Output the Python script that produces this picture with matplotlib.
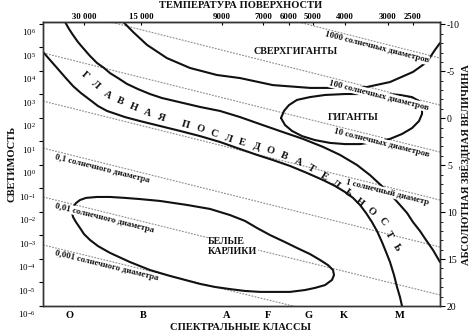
"""Hertzsprung-Russell diagram with lines of constant stellar diameter."""

import matplotlib

matplotlib.use("Agg")

import matplotlib.pyplot as plt
import numpy as np
from matplotlib import transforms
from matplotlib.ticker import FixedLocator, FuncFormatter, NullLocator

plt.rcParams["font.family"] = ["Liberation Serif", "DejaVu Serif"]
plt.rcParams["axes.unicode_minus"] = False

# Horizontal scale runs from 0 (hot, left edge) to 100 (cool, right edge).
SPECTRAL_CLASSES = ["O", "B", "A", "F", "G", "K", "M"]
SPECTRAL_X = [6.8, 25.2, 46.3, 56.7, 67.0, 75.8, 89.9]

TEMPERATURE_LABELS = ["30 000", "15 000", "9000", "7000", "6000", "5000", "4000", "3000", "2500"]
TEMPERATURE_X = [10.3, 24.7, 45.1, 55.4, 62.0, 68.0, 76.1, 86.9, 93.2]

LUMINOSITY_EXPONENTS = list(range(-6, 7))
MAGNITUDE_TICKS = [-10, -5, 0, 5, 10, 15, 20]
MAGNITUDE_MINOR = list(range(-10, 21))

# Lines of constant radius: log10(L) where each one meets the left and right edge.
RADIUS_LABELS = [
    "1000 солнечных диаметров",
    "100 солнечных диаметров",
    "10 солнечных диаметров",
    "1 солнечный диаметр",
    "0,1 солнечного диаметра",
    "0,01 солнечного диаметра",
    "0,001 солнечного диаметра",
]
RADIUS_LOGL_LEFT = [8.85, 6.81, 4.77, 2.72, 0.72, -1.36, -3.40]
RADIUS_LOGL_RIGHT = [4.55, 2.55, 0.55, -1.49, -3.49, -5.53, -7.53]

# Region outlines: spectral position and log10(L).
SUPERGIANT_X = [20.2, 22.7, 26.2, 31.2, 37.0, 43.8, 49.6, 57.9, 67.3, 74.8, 81.6, 87.4, 93.2, 96.7, 98.7, 100.0]
SUPERGIANT_LOGL = [6.09, 5.66, 5.11, 4.55, 4.13, 3.83, 3.70, 3.40, 3.28, 3.28, 3.32, 3.53, 3.96, 4.38, 4.89, 5.19]

MS_UPPER_X = [5.54, 6.55, 7.56, 8.82, 10.08, 11.84, 13.60, 15.37, 16.88, 18.89, 21.16, 23.93, 26.95, 29.97,
              33.25, 39.55, 44.58, 49.62, 54.66, 60.45, 65.49, 70.53, 74.81, 79.09, 82.37, 85.64, 87.91,
              89.92, 91.69, 93.20, 94.96, 96.47, 98.24, 100.0]
MS_UPPER_LOGL = [6.09, 5.79, 5.53, 5.23, 4.98, 4.64, 4.34, 4.13, 3.91, 3.70, 3.45, 3.23, 3.02, 2.85,
                 2.72, 2.47, 2.30, 2.04, 1.74, 1.40, 1.11, 0.77, 0.43, 0.00, -0.43, -0.94, -1.32,
                 -1.70, -2.04, -2.43, -2.81, -3.19, -3.62, -4.13]

MS_LOWER_X = [0.00, 1.76, 3.53, 5.54, 7.56, 9.57, 11.84, 13.85, 16.12, 18.39, 20.65, 24.43, 29.47, 34.51,
              39.55, 44.58, 49.62, 53.90, 57.93, 62.22, 66.50, 70.53, 73.55, 76.07, 78.09, 79.85, 81.36,
              82.87, 84.13, 85.39, 86.40, 87.41, 88.41, 89.17, 89.92, 90.43]
MS_LOWER_LOGL = [4.81, 4.47, 4.13, 3.74, 3.36, 3.06, 2.77, 2.51, 2.30, 2.17, 2.04, 1.87, 1.66, 1.45,
                 1.23, 0.98, 0.68, 0.43, 0.21, -0.04, -0.34, -0.64, -0.89, -1.15, -1.40, -1.70, -2.04,
                 -2.43, -2.81, -3.28, -3.70, -4.13, -4.68, -5.19, -5.62, -6.00]

GIANT_X = [59.95, 60.71, 61.96, 63.98, 67.25, 71.03, 76.07, 81.11, 86.15, 89.92, 92.95, 94.71, 95.47,
           95.47, 94.71, 92.95, 90.43, 87.41, 83.63, 79.85, 76.07, 72.29, 68.51, 65.24, 62.72, 60.96, 59.95]
GIANT_LOGL = [2.00, 2.30, 2.55, 2.77, 2.89, 2.98, 3.02, 3.02, 3.02, 2.98, 2.89, 2.72, 2.47,
              2.17, 1.87, 1.57, 1.32, 1.11, 0.98, 0.89, 0.89, 0.94, 1.06, 1.23, 1.45, 1.70, 2.00]

DWARF_X = [7.30, 7.56, 8.31, 9.32, 10.83, 13.60, 16.88, 20.65, 24.43, 29.47, 36.27, 42.07, 47.10, 50.88,
           53.90, 57.18, 60.96, 63.98, 67.25, 69.77, 71.79, 73.05, 73.30, 72.80, 71.03, 68.51, 66.00,
           62.22, 58.44, 54.66, 50.88, 47.10, 43.32, 39.55, 35.77, 31.99, 26.95, 21.91, 16.88, 13.85,
           11.84, 10.33, 9.32, 8.31, 7.56, 7.30]
DWARF_LOGL = [-2.00, -1.79, -1.62, -1.49, -1.40, -1.36, -1.36, -1.40, -1.45, -1.53, -1.70, -1.87, -2.13,
              -2.38, -2.68, -2.98, -3.28, -3.53, -3.79, -4.04, -4.26, -4.47, -4.68, -4.89, -5.11, -5.23,
              -5.32, -5.40, -5.40, -5.40, -5.36, -5.28, -5.19, -5.06, -4.89, -4.72, -4.47, -4.13, -3.74,
              -3.45, -3.19, -2.94, -2.68, -2.43, -2.21, -2.00]

INK = "#111111"
DOT = "#8c8c8c"


def lum(logl):
    return 10.0 ** np.asarray(logl, dtype=float)


def text_along_path(axis, text, path_x, path_logl, gap=1.7, **style):
    """Spread the letters of text evenly along a polyline given in data units."""
    pts = axis.transData.transform(np.column_stack([path_x, lum(path_logl)]))
    arc = np.concatenate([[0.0], np.cumsum(np.hypot(*np.diff(pts, axis=0).T))])
    slots, pos = [], 0.0
    for ch in text:
        if ch == " ":
            pos += gap - 1.0
            continue
        slots.append((ch, pos))
        pos += 1.0
    step = arc[-1] / slots[-1][1]
    inv = axis.transData.inverted()
    for ch, slot in slots:
        s = slot * step
        s0, s1 = max(s - step / 2, 0.0), min(s + step / 2, arc[-1])
        dx = np.interp(s1, arc, pts[:, 0]) - np.interp(s0, arc, pts[:, 0])
        dy = np.interp(s1, arc, pts[:, 1]) - np.interp(s0, arc, pts[:, 1])
        x, y = inv.transform((np.interp(s, arc, pts[:, 0]), np.interp(s, arc, pts[:, 1])))
        axis.text(x, y, ch, rotation=np.degrees(np.arctan2(dy, dx)), rotation_mode="anchor",
                  ha="center", va="center", zorder=4, **style)


fig = plt.figure(figsize=(4.74, 3.36), dpi=100)
ax = fig.add_axes([43 / 474, 30 / 336, 397 / 474, 284 / 336])
ax.set_yscale("log")
ax.set_xlim(0, 100)
ax.set_ylim(1e-6, 10 ** 6.085)

for spine in ax.spines.values():
    spine.set_linewidth(1.0)
    spine.set_color("#333333")

# constant-radius lines and their captions
label_style = dict(fontsize=6.3, fontweight="bold", color=INK, zorder=3,
                   bbox=dict(fc="white", ec="none", pad=0.4))
for i, (text, left, right) in enumerate(zip(RADIUS_LABELS, RADIUS_LOGL_LEFT, RADIUS_LOGL_RIGHT)):
    ax.plot([0, 100], lum([left, right]), color=DOT, lw=0.8, ls=(0, (1.6, 1.2)), zorder=1)
    p0, p1 = ax.transData.transform([(0, lum(left)), (100, lum(right))])
    theta = np.arctan2(p1[1] - p0[1], p1[0] - p0[0])
    normal = np.array([np.sin(theta), -np.cos(theta)]) * 5.5
    if i < 4:
        x_at, ha = 97.5, "right"
    else:
        x_at, ha = 3.4, "left"
    logl_at = left + (right - left) * x_at / 100
    ax.annotate(text, xy=(x_at, lum(logl_at)), xytext=tuple(normal), textcoords="offset pixels",
                rotation=np.degrees(theta), rotation_mode="anchor", ha=ha, va="center",
                **label_style)

# region outlines
for xs, ls in [(SUPERGIANT_X, SUPERGIANT_LOGL), (MS_UPPER_X, MS_UPPER_LOGL),
               (MS_LOWER_X, MS_LOWER_LOGL), (GIANT_X, GIANT_LOGL), (DWARF_X, DWARF_LOGL)]:
    ax.plot(xs, lum(ls), color=INK, lw=1.5, solid_joinstyle="round", solid_capstyle="round", zorder=2)

region_style = dict(fontsize=7.2, fontweight="bold", color=INK, zorder=4)
ax.text(63.7, lum(4.81), "СВЕРХГИГАНТЫ", ha="center", va="center", **region_style)
ax.text(78.1, lum(2.04), "ГИГАНТЫ", ha="center", va="center", **region_style)
ax.text(41.6, lum(-3.45), "БЕЛЫЕ\nКАРЛИКИ", ha="left", va="center", linespacing=1.15,
        bbox=dict(fc="white", ec="none", pad=0.3), **region_style)

seq_path_x = [10.58, 16.12, 23.17, 30.23, 36.52, 47.86, 58.94, 65.99, 72.29, 77.33, 83.12, 85.64, 86.90, 89.17]
seq_path_logl = [3.83, 2.98, 2.43, 2.00, 1.70, 1.06, 0.51, 0.00, -0.64, -1.28, -2.04, -2.43, -2.89, -3.49]
text_along_path(ax, "ГЛАВНАЯ ПОСЛЕДОВАТЕЛЬНОСТЬ", seq_path_x, seq_path_logl,
                fontsize=7.5, fontweight="bold", color=INK)

# luminosity axis, labels sit a little below their ticks
ax.set_yticks(lum(LUMINOSITY_EXPONENTS))
ax.yaxis.set_minor_locator(NullLocator())
ax.yaxis.set_major_formatter(FuncFormatter(lambda v, _: r"$\mathregular{10^{%d}}$" % round(np.log10(v))))
ax.tick_params(axis="y", direction="out", length=3, width=0.8, pad=2, labelsize=6.5)
shift = transforms.ScaledTranslation(0, -0.08, fig.dpi_scale_trans)
for lbl in ax.get_yticklabels():
    lbl.set_transform(lbl.get_transform() + shift)

ax.set_xticks(SPECTRAL_X, SPECTRAL_CLASSES, fontsize=7.5, fontweight="bold")
ax.tick_params(axis="x", length=0, pad=3.5)

top = ax.secondary_xaxis("top")
top.set_xticks(TEMPERATURE_X, TEMPERATURE_LABELS, fontsize=6.3, fontweight="bold")
top.tick_params(direction="in", length=2, width=0.8, pad=0.5)

mag = ax.twinx()
mag.set_ylim(20, -10.25)
mag.set_yticks(MAGNITUDE_TICKS)
mag.yaxis.set_minor_locator(FixedLocator(MAGNITUDE_MINOR))
mag.tick_params(axis="y", which="major", length=3.5, width=0.8, pad=1.5, labelsize=7)
mag.tick_params(axis="y", which="minor", length=2, width=0.6)
for spine in mag.spines.values():
    spine.set_linewidth(1.0)
    spine.set_color("#333333")

title_style = dict(fontsize=7.6, fontweight="bold", color=INK, ha="center", va="center")
fig.text(241 / 474, 1 - 6 / 336, "ТЕМПЕРАТУРА ПОВЕРХНОСТИ", **title_style)
fig.text(240 / 474, 1 - 327 / 336, "СПЕКТРАЛЬНЫЕ КЛАССЫ", **title_style)
fig.text(12 / 474, 1 - 164 / 336, "СВЕТИМОСТЬ", rotation=90, **title_style)
fig.text(465 / 474, 1 - 165 / 336, "АБСОЛЮТНАЯ ЗВЁЗДНАЯ ВЕЛИЧИНА", rotation=90, **title_style)

fig.savefig("out.png", dpi=100)
